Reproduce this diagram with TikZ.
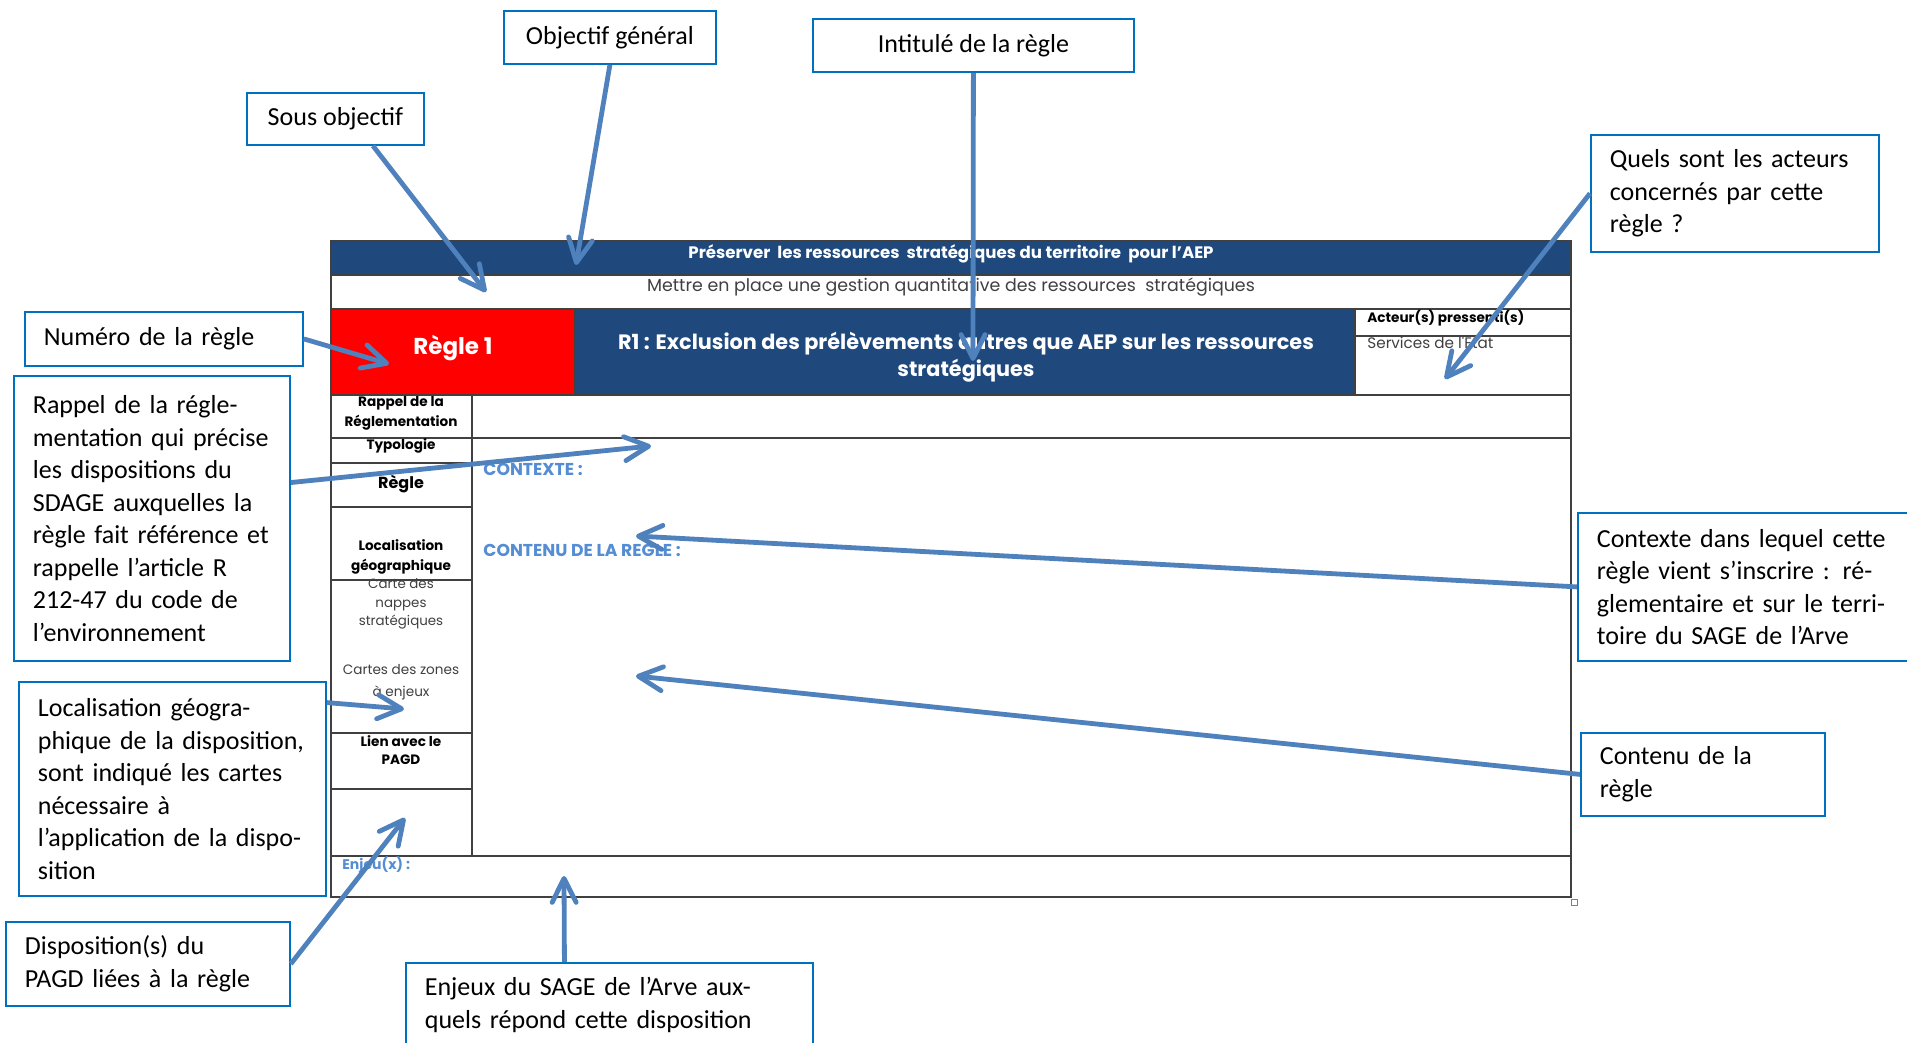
\documentclass[tikz,border=0pt]{standalone}
\usepackage{fontspec}
\setmainfont{Carlito}
\newfontfamily\gothicfont{Poppins}
\usepackage{tikz}
\usetikzlibrary{arrows.meta, calc, positioning}
\definecolor{arvenavy}{RGB}{31, 73, 125}
\definecolor{arvered}{RGB}{255, 0, 0}
\definecolor{arvearrow}{RGB}{79, 129, 189}
\definecolor{arveframe}{RGB}{0, 112, 192}
\definecolor{arvegrey}{RGB}{64, 64, 64}
\definecolor{arvefield}{RGB}{84, 141, 212}

\begin{document}
\begin{tikzpicture}[
	x=0.5pt, y=-0.5pt,
	callout/.style = {draw=arveframe, line width=0.9pt, fill=white, inner xsep=9.5pt, inner ysep=0pt, font=\fontsize{13}{16.25}\selectfont},
	notebox/.style = {callout, anchor=north west, align=left},
	pointer/.style = {draw=arvearrow, line width=2.4pt, -{Straight Barb[length=12pt, width=12pt, round]}},
	gridline/.style = {draw=black!75, line width=0.7pt},
	bandtext/.style = {text=white, font=\gothicfont\bfseries\fontsize{8.3}{9}\selectfont},
	plaintext/.style = {text=arvegrey, font=\gothicfont\fontsize{8.7}{9}\selectfont},
	celltext/.style = {text=black, align=center, font=\gothicfont\bfseries\fontsize{6.8}{10}\selectfont},
	thincell/.style = {text=arvegrey, align=center, font=\gothicfont\fontsize{6.7}{9.25}\selectfont},
	fieldtext/.style = {text=arvefield, anchor=west, inner xsep=0pt, font=\gothicfont\bfseries\fontsize{8.6}{9}\selectfont}
]
	\useasboundingbox (0,0) rectangle (1907,1043);
	\clip (0,0) rectangle (1907,1043);
	\fill[white] (0,0) rectangle (1907,1043);

	% fiche
	\fill[arvenavy] (331,241) rectangle (1571,275);
	\fill[arvered] (331,309) rectangle (575,395);
	\fill[arvenavy] (575,309) rectangle (1355,395);
	\draw[gridline] (331,241) rectangle (1571,897);
	\draw[gridline] (331,275) -- (1571,275);
	\draw[gridline] (331,309) -- (1571,309);
	\draw[gridline] (331,395) -- (1571,395);
	\draw[gridline] (331,438) -- (1571,438);
	\draw[gridline] (331,856) -- (1571,856);
	\draw[gridline] (331,463) -- (472,463);
	\draw[gridline] (331,507) -- (472,507);
	\draw[gridline] (331,580) -- (472,580);
	\draw[gridline] (331,733) -- (472,733);
	\draw[gridline] (331,789) -- (472,789);
	\draw[gridline] (472,395) -- (472,856);
	\draw[gridline] (575,309) -- (575,395);
	\draw[gridline] (1355,309) -- (1355,395);
	\draw[gridline] (1355,336) -- (1571,336);
	\draw[black!50, line width=0.3pt] (1571,899) rectangle (1577,905);

	\node[bandtext] (celltitle) at (951,254) {Préserver~ les ressources~ stratégiques du territoire~ pour l’AEP};
	\node[plaintext] (cellsub) at (951,287) {Mettre en place une gestion quantitative des ressources~ stratégiques};
	\node[text=white, font=\gothicfont\bfseries\fontsize{11.5}{12}\selectfont] (cellnum) at (453,348) {Règle 1};
	\node[text=white, align=center, font=\gothicfont\bfseries\fontsize{10.4}{13.5}\selectfont] (cellintit) at (966,357) {R1 : Exclusion des prélèvements autres que AEP sur les ressources\\stratégiques};
	\node[celltext, anchor=west, inner xsep=0pt] (cellacteur) at (1367,318) {Acteur(s) pressenti(s)};
	\node[thincell, anchor=west, inner xsep=0pt, font=\gothicfont\fontsize{7.6}{9}\selectfont] (cellservices) at (1367,343) {Services de l'Etat};

	\node[celltext] (cellrappel) at (401,413) {Rappel de la\\Réglementation};
	\node[celltext] (celltypo) at (401,446) {Typologie};
	\node[celltext, font=\gothicfont\bfseries\fontsize{8}{10}\selectfont] (cellregle) at (401,484) {Règle};
	\node[celltext] (celllocal) at (401,557) {Localisation\\géographique};
	\node[thincell] (cellcarte) at (401,604) {Carte des\\nappes\\stratégiques};
	\node[thincell, font=\gothicfont\fontsize{6.8}{11}\selectfont] (cellzones) at (401,682) {Cartes des zones\\à enjeux};
	\node[celltext, font=\gothicfont\bfseries\fontsize{6.8}{9}\selectfont] (celllien) at (401,750) {Lien avec le\\PAGD};

	\node[fieldtext] (fieldcontexte) at (483,469) {CONTEXTE :};
	\node[fieldtext] (fieldcontenu) at (483,550) {CONTENU DE LA REGLE :};
	\node[fieldtext, font=\gothicfont\bfseries\fontsize{7}{7}\selectfont] (fieldenjeu) at (342,865) {Enjeu(x) :};

	% bulles
	\node[callout, minimum width=106pt, minimum height=26.5pt, anchor=north west] (boxobjectif) at (503,10) {Objectif général};
	\node[callout, minimum width=160.5pt, minimum height=26.5pt, anchor=north west] (boxintitule) at (812,18) {Intitulé de la règle};
	\node[callout, minimum width=88.5pt, minimum height=26pt, anchor=north west] (boxsous) at (246,92) {Sous objectif};
	\node[notebox, text width=125pt, minimum height=58.5pt] (boxacteurs) at (1590,134) {Quels sont les acteurs\\concernés par cette\\règle ?};
	\node[notebox, text width=120pt, minimum height=27pt] (boxnumero) at (24,311) {Numéro de la règle};
	\node[notebox, text width=119pt, minimum height=142.5pt] (boxrappel) at (13,375) {Rappel de la régle-\\mentation qui précise\\les dispositions du\\SDAGE auxquelles la\\règle fait référence et\\rappelle l’article R\\212-47 du code de\\l’environnement};
	\node[notebox, text width=134.5pt, minimum height=107pt] (boxlocal) at (18,681) {Localisation géogra-\\phique de la disposition,\\sont indiqué les cartes\\nécessaire à\\l’application de la dispo-\\sition};
	\node[notebox, text width=123pt, minimum height=42pt] (boxdispo) at (5,921) {Disposition(s) du\\PAGD liées à la règle};
	\node[notebox, text width=184.5pt, minimum height=42pt] (boxenjeux) at (405,962) {Enjeux du SAGE de l’Arve aux-\\quels répond cette disposition};
	\node[notebox, text width=152.5pt, minimum height=74pt] (boxcontexte) at (1577,512) {Contexte dans lequel cette\\règle vient s’inscrire : ré-\\glementaire et sur le terri-\\toire du SAGE de l’Arve};
	\node[notebox, text width=103pt, minimum height=41.5pt] (boxcontenu) at (1580,732) {Contenu de la\\règle};

	\coordinate (tipsous) at (486,292);
	\coordinate (tipobjectif) at (576,265);
	\coordinate (tipintitule) at (973,361);
	\coordinate (tipacteurs) at (1445,379);
	\coordinate (tipnumero) at (389,364);
	\coordinate (tiprappel) at (651,446);
	\coordinate (tipcontexte) at (636,536);
	\coordinate (tipcontenu) at (636,676);
	\coordinate (tiplocal) at (404,709);
	\coordinate (tipdispo) at (405,818);
	\coordinate (tipenjeux) at (564,876);

	\draw[pointer] ($(boxsous.south west)!0.71!(boxsous.south east)$) -- (tipsous);
	\draw[pointer] (boxobjectif.south) -- (tipobjectif);
	\draw[pointer] (boxintitule.south) -- (tipintitule);
	\draw[pointer] (boxacteurs.west) -- (tipacteurs);
	\draw[pointer] (boxnumero.east) -- (tipnumero);
	\draw[pointer] ($(boxrappel.north east)!0.375!(boxrappel.south east)$) -- (tiprappel);
	\draw[pointer] (boxcontexte.west) -- (tipcontexte);
	\draw[pointer] (boxcontenu.west) -- (tipcontenu);
	\draw[pointer] ($(boxlocal.north east)!0.1!(boxlocal.south east)$) -- (tiplocal);
	\draw[pointer] (boxdispo.east) -- (tipdispo);
	\draw[pointer] ($(boxenjeux.north west)!0.39!(boxenjeux.north east)$) -- (tipenjeux);
\end{tikzpicture}
\end{document}
